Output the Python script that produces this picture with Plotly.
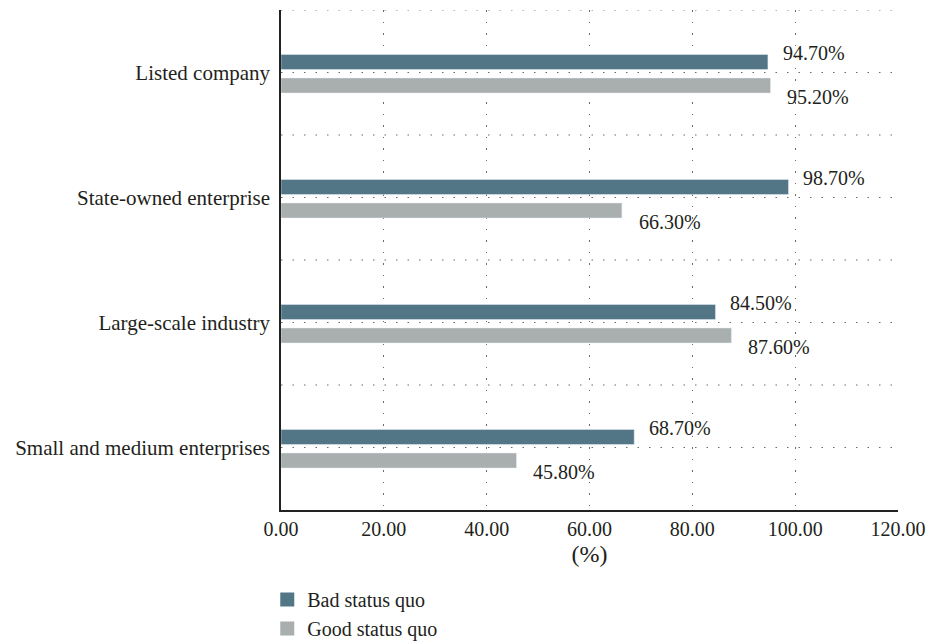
import plotly.graph_objects as go

categories = ["Listed company", "State-owned enterprise", "Large-scale industry", "Small and medium enterprises"]
bad_values = [94.70, 98.70, 84.50, 68.70]
good_values = [95.20, 66.30, 87.60, 45.80]
x_ticks = [0, 20, 40, 60, 80, 100, 120]

BAD_COLOR = "#527686"
GOOD_COLOR = "#a9aeae"
FONT = "Liberation Serif"
TXT = "#231f20"
GRID = "#6a6a6a"

fig = go.Figure()
fig.add_trace(go.Bar(y=categories, x=bad_values, orientation="h", marker_color=BAD_COLOR,
                     width=0.12, offset=-0.144, showlegend=False, name="Bad status quo"))
fig.add_trace(go.Bar(y=categories, x=good_values, orientation="h", marker_color=GOOD_COLOR,
                     width=0.12, offset=0.044, showlegend=False, name="Good status quo"))
# legend entries
fig.add_trace(go.Scatter(x=[None], y=[None], mode="markers", name="Bad status quo",
                         marker=dict(symbol="square", size=14, color=BAD_COLOR)))
fig.add_trace(go.Scatter(x=[None], y=[None], mode="markers", name="Good status quo",
                         marker=dict(symbol="square", size=14, color=GOOD_COLOR)))

annotations = []
for c, v in zip(categories, bad_values):
    annotations.append(dict(x=v, y=c, xref="x", yref="y", text=f"{v:.2f}%", showarrow=False,
                            xanchor="left", yanchor="middle", xshift=13, yshift=20,
                            font=dict(family=FONT, size=20, color=TXT)))
for c, v in zip(categories, good_values):
    annotations.append(dict(x=v, y=c, xref="x", yref="y", text=f"{v:.2f}%", showarrow=False,
                            xanchor="left", yanchor="middle", xshift=15, yshift=-24,
                            font=dict(family=FONT, size=20, color=TXT)))

shapes = []
n = len(categories)
for k in range(2 * n):
    yv = -0.5 + 0.5 * k
    shapes.append(dict(type="line", xref="x domain", yref="y", x0=0, x1=1, y0=yv, y1=yv,
                       line=dict(color=GRID, width=1.2, dash="1.5px,10px"), layer="below"))

fig.update_layout(
    width=928, height=641,
    margin=dict(l=281, r=30, t=10, b=131, autoexpand=False),
    plot_bgcolor="white", paper_bgcolor="white",
    font=dict(family=FONT, size=20, color=TXT),
    barmode="overlay",
    annotations=annotations,
    shapes=shapes,
    legend=dict(xref="container", yref="container", x=0.288, y=0.095,
                xanchor="left", yanchor="top", orientation="v",
                font=dict(family=FONT, size=20, color=TXT), tracegroupgap=0),
    xaxis=dict(range=[0, 120], tickvals=x_ticks, tickformat=".2f", showgrid=True,
               gridcolor=GRID, griddash="1.5px,10px", gridwidth=1.2,
               showline=True, linecolor="#222", linewidth=1.5, zeroline=False,
               ticks="", automargin=False, title=dict(text="(%)", standoff=6),
               tickfont=dict(family=FONT, size=20, color=TXT)),
    yaxis=dict(type="category", categoryorder="array", categoryarray=categories,
               range=[3.5, -0.5], showgrid=False, showline=True, linecolor="#222",
               linewidth=1.5, ticks="", ticklabelstandoff=5, automargin=False,
               tickfont=dict(family=FONT, size=21, color=TXT)),
)

fig.write_html("out.html")
